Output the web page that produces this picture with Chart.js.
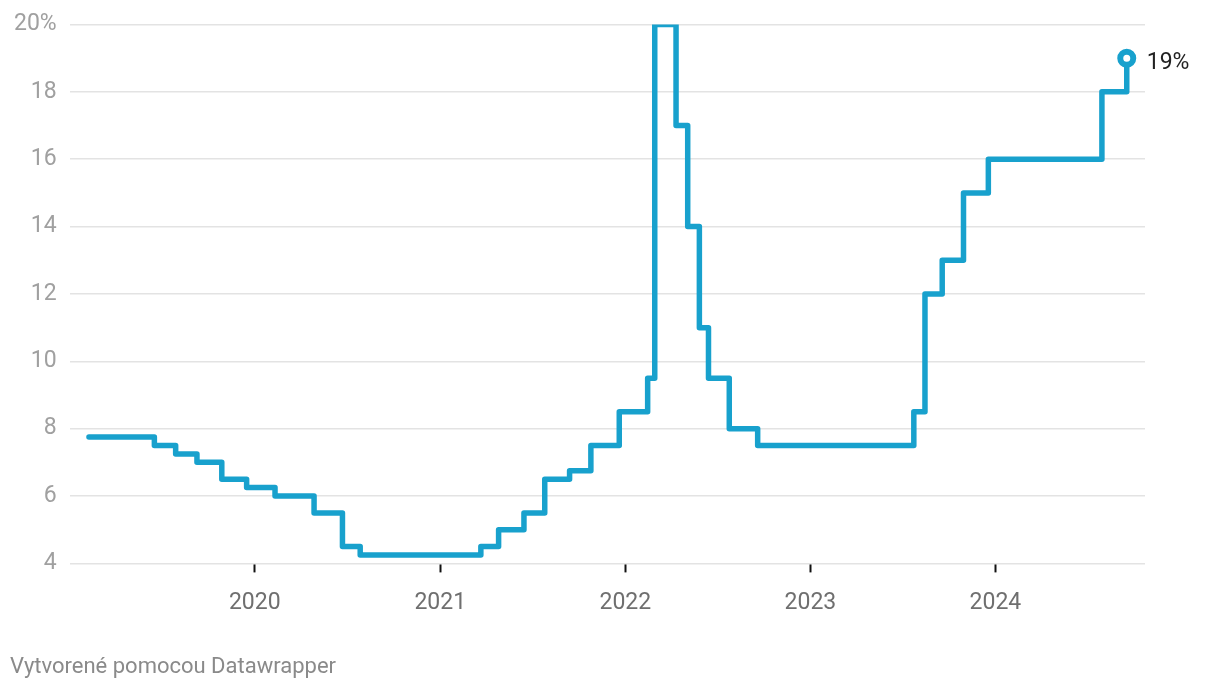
<!DOCTYPE html>
<html>
<head>
<meta charset="utf-8">
<script src="https://cdn.jsdelivr.net/npm/chart.js@4"></script>
<style>
  html, body { margin: 0; padding: 0; background: #fff; }
  #wrap { position: relative; width: 1220px; height: 690px; }
</style>
</head>
<body>
<div id="wrap"><canvas id="rateChart" width="1220" height="690"></canvas></div>
<script>
// key rate changes (date of change, new rate in %)
const changeDates = [
  '2019-02-08', '2019-06-17', '2019-07-29', '2019-09-09', '2019-10-28', '2019-12-16',
  '2020-02-10', '2020-04-27', '2020-06-22', '2020-07-27',
  '2021-03-22', '2021-04-26', '2021-06-15', '2021-07-26', '2021-09-13', '2021-10-25', '2021-12-20',
  '2022-02-14', '2022-02-28', '2022-04-11', '2022-05-04', '2022-05-27', '2022-06-14', '2022-07-25', '2022-09-19',
  '2023-07-24', '2023-08-15', '2023-09-18', '2023-10-30', '2023-12-18',
  '2024-07-29', '2024-09-16'
];
const rates = [
  7.75, 7.5, 7.25, 7.0, 6.5, 6.25,
  6.0, 5.5, 4.5, 4.25,
  4.5, 5.0, 5.5, 6.5, 6.75, 7.5, 8.5,
  9.5, 20, 17, 14, 11, 9.5, 8.0, 7.5,
  8.5, 12, 13, 15, 16,
  18, 19
];
const yearTicks = [2020, 2021, 2022, 2023, 2024];
const yTicks = [4, 6, 8, 10, 12, 14, 16, 18, 20];

const blue = '#18a1cd';
const points = changeDates.map((d, i) => ({ x: Date.parse(d + 'T00:00:00Z'), y: rates[i] }));
const lastIdx = points.length - 1;

const endLabel = {
  id: 'endLabel',
  afterDatasetsDraw(chart) {
    const el = chart.getDatasetMeta(0).data[lastIdx];
    const c = chart.ctx;
    c.save();
    c.font = '23px Roboto';
    c.fillStyle = '#222';
    c.textBaseline = 'middle';
    c.fillText(rates[lastIdx] + '%', el.x + 20, el.y + 5);
    c.restore();
  },
  afterDraw(chart) {
    const c = chart.ctx;
    c.save();
    c.font = '22px Roboto';
    c.fillStyle = '#8a8a8a';
    c.textBaseline = 'middle';
    c.fillText('Vytvorené pomocou Datawrapper', 10, 667);
    c.restore();
  }
};

new Chart(document.getElementById('rateChart'), {
  type: 'line',
  data: {
    datasets: [{
      data: points,
      borderColor: blue,
      borderWidth: 5.5,
      borderCapStyle: 'round',
      borderJoinStyle: 'round',
      stepped: 'before',
      pointRadius: points.map((p, i) => i === lastIdx ? 6.5 : 0),
      pointBorderWidth: 6,
      pointBackgroundColor: '#fff',
      pointBorderColor: blue,
      pointHoverRadius: 0
    }]
  },
  options: {
    responsive: false,
    animation: false,
    layout: { padding: { top: 16, right: 75, bottom: 56, left: 1 } },
    plugins: { legend: { display: false }, tooltip: { enabled: false } },
    scales: {
      x: {
        type: 'linear',
        min: Date.parse('2019-01-01T00:00:00Z'),
        max: Date.parse('2024-10-22T00:00:00Z'),
        afterBuildTicks(axis) {
          axis.ticks = yearTicks.map(y => ({ value: Date.UTC(y, 0, 1) }));
        },
        border: { display: false },
        grid: { drawOnChartArea: false, drawTicks: true, tickLength: 9, tickWidth: 2, tickColor: '#111' },
        ticks: {
          autoSkip: false,
          maxRotation: 0,
          padding: 17,
          color: '#6f6f6f',
          font: { family: 'Roboto', size: 23 },
          callback: v => new Date(v).getUTCFullYear()
        }
      },
      y: {
        min: 4,
        max: 20,
        afterBuildTicks(axis) {
          axis.ticks = yTicks.map(v => ({ value: v }));
        },
        border: { display: false },
        grid: { color: '#e3e3e3', lineWidth: 1.5, drawTicks: false },
        ticks: {
          padding: 13,
          color: '#a0a0a0',
          font: { family: 'Roboto', size: 23, lineHeight: 1 },
          callback: v => v === 20 ? '20%' : v
        }
      }
    }
  },
  plugins: [endLabel]
});
</script>
</body>
</html>
